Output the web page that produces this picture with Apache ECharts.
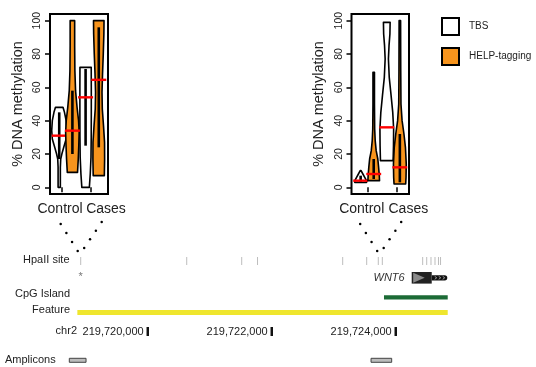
<!DOCTYPE html>
<html>
<head>
<meta charset="utf-8">
<script src="https://cdn.jsdelivr.net/npm/echarts@6/dist/echarts.min.js"></script>
<style>
  html, body { margin: 0; padding: 0; background: #fff; }
  #main { width: 536px; height: 367px; }
</style>
</head>
<body>
<div id="main"></div>
<script>
// ---- data ----
const groups = ['Control', 'Cases'];
const methods = ['TBS', 'HELP-tagging'];
const yTicks = [0, 20, 40, 60, 80, 100];

// violin outlines, top to bottom: [% methylation, relative half width]
const leftTbsControl = [[48, 0.5], [45, 0.7], [40, 0.92], [34, 1.0], [29, 0.92], [24, 0.6], [20, 0.35], [17, 0.2], [12, 0.15], [0, 0.15]];
const leftHelpControl = [[100, 0.3], [85, 0.3], [70, 0.33], [58, 0.42], [48, 0.62], [40, 0.82], [33, 0.9], [25, 0.85], [17, 0.78], [9, 0.68]];
const leftTbsCases = [[72, 0.75], [60, 0.76], [45, 0.76], [30, 0.75], [18, 0.72], [8, 0.62], [0, 0.5]];
const leftHelpCases = [[100, 0.7], [92, 0.68], [80, 0.6], [68, 0.5], [57, 0.43], [47, 0.47], [37, 0.63], [27, 0.77], [17, 0.78], [7, 0.74]];
const leftMedians = [31, 34, 54, 64.5];
const leftBoxes = [[17, 45], [20, 58], [25, 71], [24, 96]];

const rightTbsControl = [[10, 0.06], [8, 0.3], [6, 0.55], [4, 0.78], [3, 0.8]];
const rightHelpControl = [[69, 0.1], [50, 0.1], [35, 0.13], [28, 0.2], [22, 0.33], [17, 0.55], [12, 0.66], [7, 0.75], [4, 0.78]];
const rightTbsCases = [[99, 0.45], [92, 0.42], [85, 0.3], [77, 0.22], [66, 0.33], [55, 0.58], [45, 0.8], [35, 0.92], [25, 0.9], [16, 0.85]];
const rightHelpCases = [[100, 0.1], [70, 0.12], [50, 0.15], [40, 0.3], [32, 0.55], [24, 0.75], [14, 0.86], [6, 0.83], [2, 0.78]];
const rightMedians = [4, 8, 36, 12];
const rightBoxes = [[3, 7], [5, 17], null, [3, 32]];

// genome track (chr2)
const hpaiiSites = [219718919, 219720629, 219721516, 219721771, 219723145, 219723532, 219723719, 219723784,
  219724435, 219724500, 219724569, 219724634, 219724690, 219724723];
const starSite = 219718919;
const linkSites = [219718919, 219723750];
const cpgIsland = [219723811, 219724839];
const cpgFeature = [219718865, 219724839];
const wnt6 = [219724258, 219724581, 219724832];
const coordTicks = [219720000, 219722000, 219724000];
const amplicons = [[219718735, 219719005], [219723602, 219723935]];

// ---- chart ----
const FONT = '"Liberation Sans", Arial, sans-serif';
const ORANGE = '#F7941D';
const VW = 0.57;
const chart = echarts.init(document.getElementById('main'));

function violinRender(shapes, medians, boxes, fill) {
  return function (params, api) {
    const idx = api.value(1);
    const pos = api.value(0);
    const shape = shapes[idx];
    const right = shape.map(([v, w]) => api.coord([pos + w * VW, v]));
    const left = shape.slice().reverse().map(([v, w]) => api.coord([pos - w * VW, v]));
    const children = [{
      type: 'polygon', shape: { points: right.concat(left) },
      style: { fill: fill, stroke: '#000', lineWidth: 1.6, lineJoin: 'round' }
    }];
    const box = boxes[idx];
    if (box) {
      const a = api.coord([pos, box[1]]), b = api.coord([pos, box[0]]);
      children.push({ type: 'rect', shape: { x: a[0] - 1.3, y: a[1], width: 2.6, height: b[1] - a[1] }, style: { fill: '#000' } });
    }
    const m1 = api.coord([pos - VW, medians[idx]]), m2 = api.coord([pos + VW, medians[idx]]);
    children.push({ type: 'line', shape: { x1: m1[0], y1: m1[1], x2: m2[0], y2: m2[1] }, style: { stroke: '#ff0000', lineWidth: 2.4 } });
    return { type: 'group', children: children };
  };
}

function violinAxes(gridIndex, tickAt, labelAt) {
  return {
    x: {
      type: 'value', gridIndex: gridIndex, min: 0.3, max: 4.7,
      axisLine: { show: false }, splitLine: { show: false },
      axisTick: { customValues: tickAt, length: 5, lineStyle: { color: '#000', width: 1.5 } },
      axisLabel: {
        customValues: labelAt, margin: 8, fontSize: 14, color: '#222', fontFamily: FONT,
        formatter: v => (v < 2.5 ? groups[0] : groups[1])
      }
    },
    y: {
      type: 'value', gridIndex: gridIndex, min: -4, max: 104,
      name: '% DNA methylation', nameLocation: 'middle', nameGap: 25,
      nameTextStyle: { fontSize: 14.5, color: '#222', fontFamily: FONT },
      axisLine: { show: false }, splitLine: { show: false },
      axisTick: { customValues: yTicks, length: 5, lineStyle: { color: '#000', width: 1.5 } },
      axisLabel: { customValues: yTicks, rotate: 90, margin: 7, fontSize: 10.5, color: '#222', fontFamily: FONT }
    }
  };
}

const leftAx = violinAxes(0, [1.21, 3.41], [1.06, 4.55]);
const rightAx = violinAxes(1, [1.51, 3.76], [1.08, 4.65]);

const G = 2; // genome grid index
const ROW = { site: 11, gene: 27.8, island: 47.3, feature: 62.5, coord: 81.5, amplicon: 110.3 };

function hBar(api, from, to, row, half, style) {
  const a = api.coord([from, row]), b = api.coord([to, row]);
  return { type: 'rect', shape: { x: a[0], y: a[1] - half, width: b[0] - a[0], height: half * 2 }, style: style };
}

const option = {
  animation: false,
  textStyle: { fontFamily: FONT },
  grid: [
    { left: 50, top: 14, width: 58, height: 180, show: true, borderColor: '#000', borderWidth: 2, backgroundColor: 'transparent' },
    { left: 351.5, top: 14, width: 57.5, height: 180, show: true, borderColor: '#000', borderWidth: 2, backgroundColor: 'transparent' },
    { left: 60, top: 250, width: 400, height: 117 }
  ],
  xAxis: [leftAx.x, rightAx.x, { type: 'value', gridIndex: G, min: 219718585, max: 219725037, show: false }],
  yAxis: [leftAx.y, rightAx.y, { type: 'value', gridIndex: G, min: 0, max: 117, inverse: true, show: false }],
  legend: {
    data: methods, orient: 'vertical', left: 436, top: 12, icon: 'rect',
    itemWidth: 17, itemHeight: 17, itemGap: 11,
    itemStyle: { borderColor: '#000', borderWidth: 2 },
    textStyle: { fontSize: 10, color: '#222', fontFamily: FONT, padding: [0, 0, 0, 5] },
    selectedMode: false
  },
  series: [
    { type: 'custom', name: methods[0], xAxisIndex: 0, yAxisIndex: 0, itemStyle: { color: '#fff' },
      renderItem: violinRender([leftTbsControl, leftHelpControl, leftTbsCases, leftHelpCases], leftMedians, leftBoxes, '#fff'),
      data: [[1, 0], [3, 2]] },
    { type: 'custom', name: methods[1], xAxisIndex: 0, yAxisIndex: 0, itemStyle: { color: ORANGE },
      renderItem: violinRender([leftTbsControl, leftHelpControl, leftTbsCases, leftHelpCases], leftMedians, leftBoxes, ORANGE),
      data: [[2, 1], [4, 3]] },
    { type: 'custom', name: methods[0], xAxisIndex: 1, yAxisIndex: 1, itemStyle: { color: '#fff' },
      renderItem: violinRender([rightTbsControl, rightHelpControl, rightTbsCases, rightHelpCases], rightMedians, rightBoxes, '#fff'),
      data: [[1, 0], [3, 2]] },
    { type: 'custom', name: methods[1], xAxisIndex: 1, yAxisIndex: 1, itemStyle: { color: ORANGE },
      renderItem: violinRender([rightTbsControl, rightHelpControl, rightTbsCases, rightHelpCases], rightMedians, rightBoxes, ORANGE),
      data: [[2, 1], [4, 3]] },
    // HpaII sites
    { type: 'custom', xAxisIndex: G, yAxisIndex: G, clip: false, silent: true,
      data: hpaiiSites.map(p => [p]),
      renderItem: (params, api) => {
        const a = api.coord([api.value(0), ROW.site - 4]), b = api.coord([api.value(0), ROW.site + 4]);
        return { type: 'line', shape: { x1: a[0], y1: a[1], x2: b[0], y2: b[1] }, style: { stroke: '#bdbdbd', lineWidth: 1 } };
      } },
    // star, gene, CpG tracks, coordinates, amplicons
    { type: 'custom', xAxisIndex: G, yAxisIndex: G, clip: false, silent: true, data: [[0]],
      renderItem: (params, api) => {
        const kids = [];
        const s = api.coord([starSite, ROW.gene - 1]);
        kids.push({ type: 'text', x: s[0], y: s[1], style: { text: '*', fontSize: 11, fill: '#777', align: 'center', verticalAlign: 'middle', fontFamily: FONT } });
        // WNT6
        const g0 = api.coord([wnt6[0], ROW.gene]), g1 = api.coord([wnt6[1], ROW.gene]), g2 = api.coord([wnt6[2], ROW.gene]);
        kids.push({ type: 'text', x: g0[0] - 7, y: g0[1], style: { text: 'WNT6', fontSize: 11, fontStyle: 'italic', fill: '#333', align: 'right', verticalAlign: 'middle', fontFamily: FONT } });
        kids.push({ type: 'rect', shape: { x: g1[0], y: g1[1] - 2.6, width: g2[0] - g1[0], height: 5.2, r: [0, 2.6, 2.6, 0] }, style: { fill: '#111' } });
        for (let k = 0; k < 3; k++) {
          const cx = g1[0] + 3 + k * 4;
          kids.push({ type: 'polyline', shape: { points: [[cx, g1[1] - 1.5], [cx + 2, g1[1]], [cx, g1[1] + 1.5]] }, style: { stroke: '#bbb', lineWidth: 0.8, fill: null } });
        }
        kids.push({ type: 'rect', shape: { x: g0[0], y: g0[1] - 5.8, width: g1[0] - g0[0], height: 11.6 }, style: { fill: '#222' } });
        kids.push({ type: 'polygon', shape: { points: [[g0[0] + 1.5, g0[1] - 5], [g0[0] + 1.5, g0[1] + 5], [g0[0] + 13, g0[1]]] }, style: { fill: '#8a8a8a' } });
        kids.push(hBar(api, cpgIsland[0], cpgIsland[1], ROW.island, 2.1, { fill: '#1c6b36' }));
        kids.push(hBar(api, cpgFeature[0], cpgFeature[1], ROW.feature, 2.6, { fill: '#EFE62E' }));
        coordTicks.forEach(c => {
          const p = api.coord([c, ROW.coord]);
          kids.push({ type: 'rect', shape: { x: p[0] - 1.2, y: p[1] - 4.5, width: 2.5, height: 9 }, style: { fill: '#111' } });
          kids.push({ type: 'text', x: p[0] - 4, y: p[1], style: { text: echarts.format.addCommas(c), fontSize: 11, fill: '#222', align: 'right', verticalAlign: 'middle', fontFamily: FONT } });
        });
        amplicons.forEach(a => kids.push(hBar(api, a[0], a[1], ROW.amplicon, 2, { fill: '#bcbcbc', stroke: '#444', lineWidth: 1 })));
        return { type: 'group', children: kids };
      } }
  ],
  graphic: [
    { type: 'text', right: 536 - 69.5, top: 254, style: { text: 'HpaII site', fontSize: 11, fill: '#222', fontFamily: FONT } },
    { type: 'text', right: 536 - 70, top: 288, style: { text: 'CpG Island', fontSize: 11, fill: '#222', fontFamily: FONT } },
    { type: 'text', right: 536 - 70, top: 304, style: { text: 'Feature', fontSize: 11, fill: '#222', fontFamily: FONT } },
    { type: 'text', right: 536 - 77, top: 325.5, style: { text: 'chr2', fontSize: 11, fill: '#222', fontFamily: FONT } },
    { type: 'text', left: 5, top: 354, style: { text: 'Amplicons', fontSize: 11, fill: '#222', fontFamily: FONT } }
  ]
};
chart.setOption(option);

// dotted links from each panel's groups down to the HpaII site they cover
const dots = [];
linkSites.forEach(site => {
  const x = chart.convertToPixel({ gridIndex: G }, [site, 0])[0];
  [[[x - 20, 224], [x - 3, 251]], [[x + 21, 222], [x + 3.5, 248]]].forEach(([a, b]) => {
    for (let k = 0; k < 4; k++) {
      const t = k / 3;
      dots.push({ type: 'circle', shape: { cx: a[0] + (b[0] - a[0]) * t, cy: a[1] + (b[1] - a[1]) * t, r: 1.25 }, style: { fill: '#000' } });
    }
  });
});
chart.setOption({ graphic: option.graphic.concat(dots) });
</script>
</body>
</html>
